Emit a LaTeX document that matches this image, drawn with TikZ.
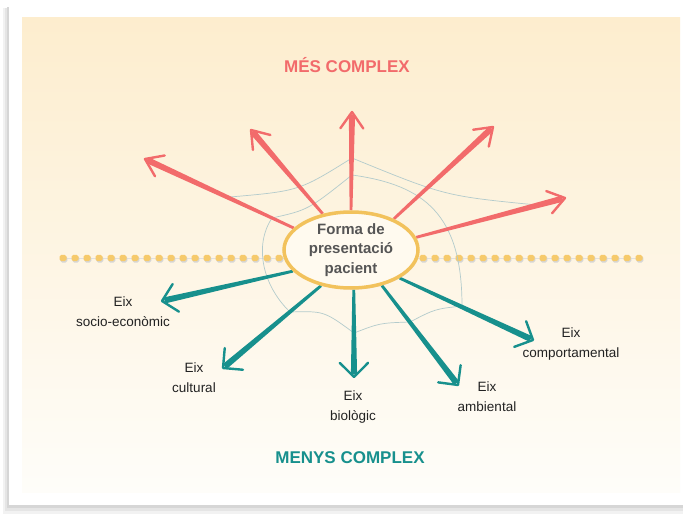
\documentclass[tikz,border=0pt]{standalone}
\usepackage{fontspec}
\setmainfont{Liberation Sans}
\usetikzlibrary{calc,shapes.geometric,shadows}

\definecolor{upred}{HTML}{F26B6B}
\definecolor{downteal}{HTML}{17908D}
\definecolor{web}{HTML}{B3CBCC}
\definecolor{hub}{HTML}{F2C25C}
\definecolor{hubfill}{HTML}{FFFAEF}
\definecolor{dot}{HTML}{F6CA6B}
\definecolor{paneltop}{HTML}{FDEDCE}
\definecolor{panelbot}{HTML}{FEFDF9}
\definecolor{hubtext}{HTML}{555555}
\definecolor{labeltext}{HTML}{222222}

% tapered shaft from #1 to #2 in colour #3, open head with half-opening #4
\newcommand\spoke[4]{%
  \coordinate (shaftend) at ($(#2)!2.5pt!(#1)$);
  \fill[#3] ($(#1)!1.4pt!90:(#2)$) -- ($(shaftend)!3.1pt!-90:(#1)$)
        -- ($(shaftend)!3.1pt!90:(#1)$) -- ($(#1)!1.4pt!-90:(#2)$) -- cycle;
  \draw[#3, line width=2.4pt, line cap=round, line join=round]
        ($(#2)!20pt!#4:(#1)$) -- (#2) -- ($(#2)!20pt!-#4:(#1)$);}

\tikzset{
  title/.style={font=\fontsize{17}{20}\selectfont\bfseries, anchor=base},
  axislabel/.style={font=\fontsize{13.5}{20}\selectfont, text=labeltext, align=center},
  webline/.style={draw=web, line width=0.7pt},
  dotbox/.style={rounded corners=1.8pt},
}

\begin{document}
\begin{tikzpicture}[x=1pt,y=-1pt]
\useasboundingbox (0,0) rectangle (683,514);

% card with its shadow, and the tinted panel
\fill[black!5]  (3,8) rectangle (683,514);
\fill[black!10] (5,8) rectangle (683,511);
\fill[black!16] (7,7) rectangle (683,508);
\fill[white] (9,5) rectangle (683,505);
\shade[top color=paneltop, bottom color=panelbot] (22,17) rectangle (680,492);

% headings
\node[title, text=upred]    (more) at (347,72)  {MÉS COMPLEX};
\node[title, text=downteal] (less) at (350,463) {MENYS COMPLEX};

% dotted divider: a row of small rounded squares
\coordinate (dl) at (63,258);
\draw[black!12, line width=0.6pt] (dl) -- ++(576,0);
\foreach \k in {0,...,48} {
  \fill[dotbox, black!16] ($(dl)+(12*\k-2.7,-2.0)$) rectangle +(7,6.5);
  \fill[dotbox, dot] ($(dl)+(12*\k-3.5,-3.2)$) rectangle +(7,6.4);
}

% hub outline used to anchor the spokes
\node[ellipse, minimum width=134pt, minimum height=76pt, inner sep=0pt,
      line width=3.5pt] (c) at (351,250) {};

% spoke tips
\coordinate (r1) at (145,159);
\coordinate (r2) at (251,130);
\coordinate (r3) at (352,112);
\coordinate (r4) at (493,127);
\coordinate (r5) at (565,198);
\coordinate (t1) at (162,301);
\coordinate (t2) at (223,368);
\coordinate (t3) at (354,377);
\coordinate (t4) at (458,385);
\coordinate (t5) at (533,340);

% web threads
\coordinate (o1) at (230,197);
\coordinate (o3) at (352,158);
\coordinate (o5) at (537,205);
\coordinate (i1) at (272,218);
\coordinate (i3) at (352,175);
\coordinate (i5) at (462,306);
\coordinate (i4) at (410,322);
\coordinate (i3b) at (354,333);
\coordinate (i2) at (290,312);
\draw[webline] (o1) .. controls (299,191) .. (o3);
\draw[webline] (o3) .. controls (445,196) .. (o5);
\draw[webline] (i1) .. controls (308,210) .. (i3);
\draw[webline] (i3) .. controls (425,185) and (462,215) .. (i5);
\draw[webline] (i5) .. controls (435,309) .. (i4);
\draw[webline] (i4) .. controls (380,323) .. (i3b);
\draw[webline] (i3b) .. controls (324,311) .. (i2);
\draw[webline] (i2) .. controls (262,285) and (254,245) .. (i1);

% spokes towards more complexity
\spoke{c.159}{r1}{upred}{35}
\spoke{c.128}{r2}{upred}{35}
\spoke{c.90}{r3}{upred}{35}
\spoke{c.36}{r4}{upred}{35}
\spoke{c.11}{r5}{upred}{35}

% spokes towards less complexity
\spoke{c.200}{t1}{downteal}{45}
\spoke{c.230}{t2}{downteal}{45}
\spoke{c.274}{t3}{downteal}{45}
\spoke{c.311}{t4}{downteal}{45}
\spoke{c.330}{t5}{downteal}{45}

% hub
\node[ellipse, minimum width=134pt, minimum height=76pt, inner sep=0pt,
      draw=hub, fill=hubfill, line width=3.5pt,
      drop shadow={opacity=0.2, shadow xshift=1pt, shadow yshift=-1.5pt},
      align=center, text=hubtext,
      font=\fontsize{15}{19.5}\selectfont\bfseries] (hub) at (351,250)
  {Forma de\\presentació\\pacient};

% axis labels
\node[axislabel] (socio) at (123,312)   {Eix\\socio-econòmic};
\node[axislabel] (cult)  at (194,378)   {Eix\\cultural};
\node[axislabel] (bio)   at (353,407.5) {Eix\\biològic};
\node[axislabel] (amb)   at (487,397)   {Eix\\ambiental};
\node[axislabel] (comp)  at (571,344.5) {Eix\\comportamental};
\end{tikzpicture}
\end{document}
